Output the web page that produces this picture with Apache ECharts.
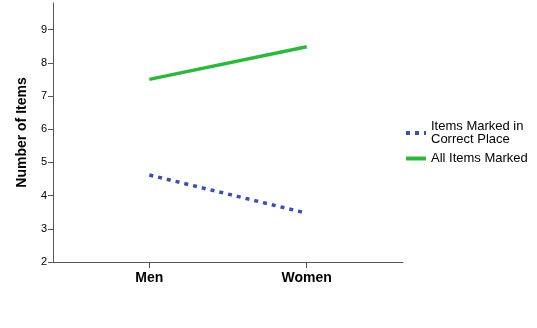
<!DOCTYPE html>
<html><head><meta charset="utf-8">
<script src="https://cdn.jsdelivr.net/npm/echarts@6/dist/echarts.min.js"></script>
<style>html,body{margin:0;padding:0;background:#fff}#c{width:537px;height:328px}</style>
</head><body><div id="c"></div>
<script>
const categories = ['Men', 'Women'];
const correctPlace = [4.62, 3.47];
const allMarked = [7.50, 8.48];
const seriesNames = ['Items Marked in\nCorrect Place', 'All Items Marked'];
const yTicks = [2, 3, 4, 5, 6, 7, 8, 9];

const chart = echarts.init(document.getElementById('c'), null, {renderer: 'canvas'});
const axisColor = '#555';
chart.setOption({
  animation: false,
  grid: {left: 53, right: 134, top: 3, bottom: 66},
  xAxis: {
    type: 'value', min: -0.612, max: 1.612,
    splitLine: {show: false},
    axisLine: {onZero: false, lineStyle: {color: axisColor, width: 1}},
    axisTick: {show: true, customValues: [0, 1], length: 6, inside: false, lineStyle: {color: axisColor}},
    axisLabel: {customValues: [0, 1], formatter: v => categories[Math.round(v)] || '',
      fontFamily: 'Liberation Sans, Arial', fontWeight: 'bold', fontSize: 14, color: '#000', margin: 9}
  },
  yAxis: {
    type: 'value', min: 2, max: 9.8,
    name: 'Number of Items', nameLocation: 'middle', nameGap: 24,
    nameTextStyle: {fontFamily: 'Liberation Sans, Arial', fontWeight: 'bold', fontSize: 14, color: '#000'},
    splitLine: {show: false},
    axisLine: {show: true, onZero: false, lineStyle: {color: axisColor, width: 1}},
    axisTick: {show: true, customValues: yTicks, length: 5, lineStyle: {color: axisColor}},
    axisLabel: {customValues: yTicks, fontFamily: 'Liberation Sans, Arial', fontSize: 11, color: '#000', margin: 6}
  },
  legend: {
    orient: 'vertical', left: 399, top: 115, itemWidth: 20, itemHeight: 12, itemGap: 6,
    itemStyle: {color: 'transparent', borderWidth: 0, opacity: 0},
    lineStyle: {width: 4},
    textStyle: {fontFamily: 'Liberation Sans, Arial', fontSize: 13, color: '#000', lineHeight: 13},
    data: seriesNames
  },
  series: [
    {name: seriesNames[0], type: 'line', showSymbol: false, symbol: 'none',
      data: correctPlace.map((v, i) => [i, v]),
      lineStyle: {color: '#3a50b0', width: 3.5, type: [4, 5]}, itemStyle: {color: '#3a50b0'}},
    {name: seriesNames[1], type: 'line', showSymbol: false, symbol: 'none',
      data: allMarked.map((v, i) => [i, v]),
      lineStyle: {color: '#2db83d', width: 3.5}, itemStyle: {color: '#2db83d'}}
  ]
});
</script></body></html>
